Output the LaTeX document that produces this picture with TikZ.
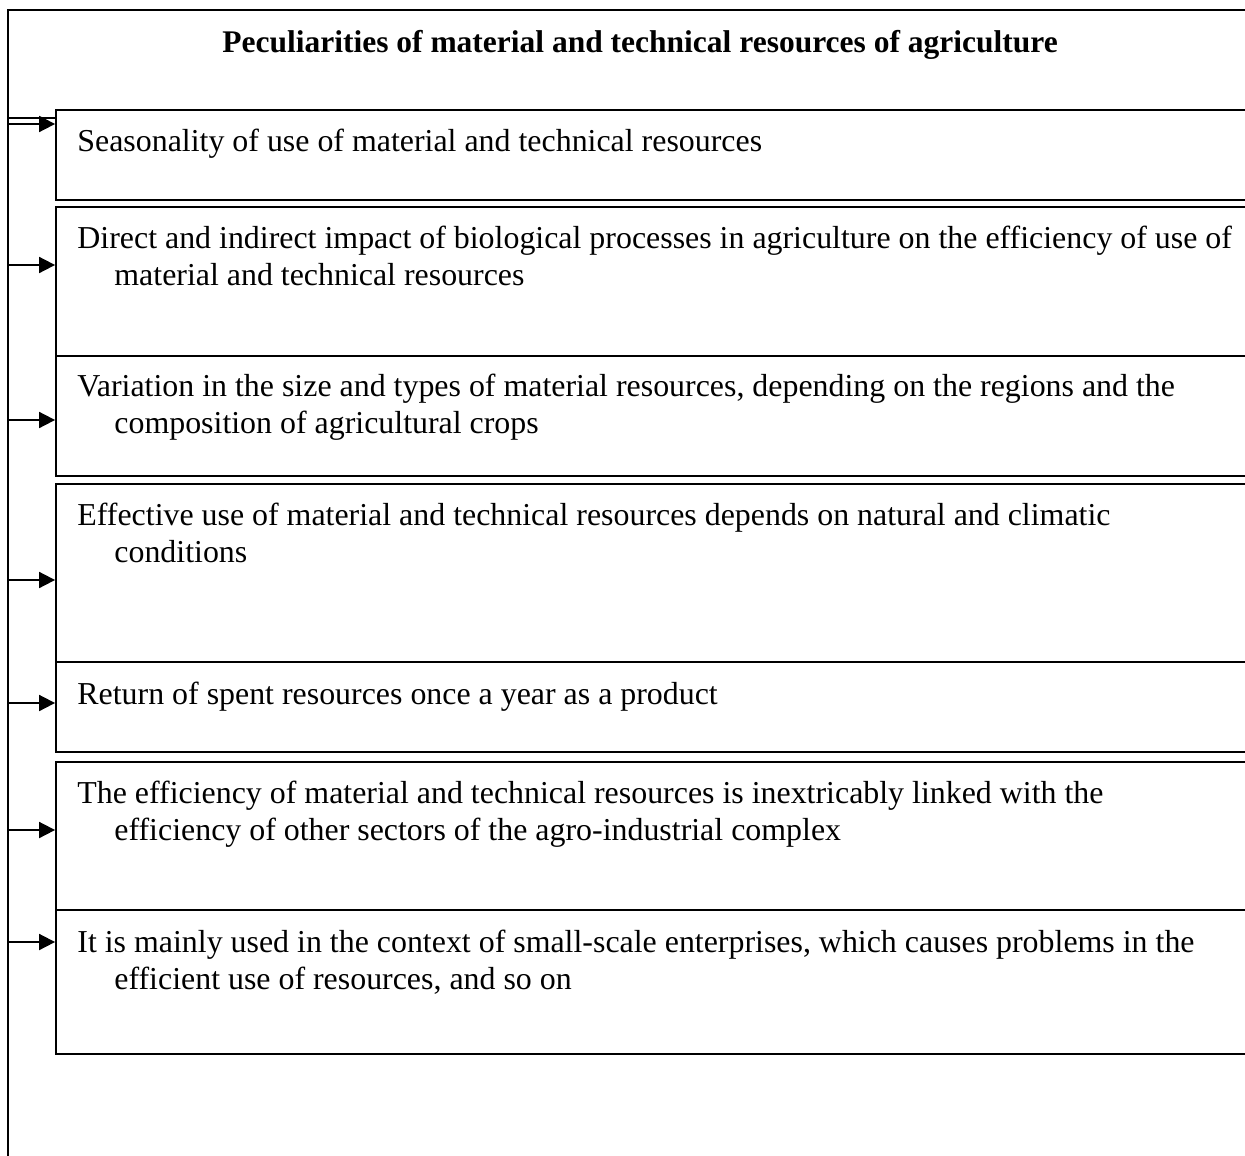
\documentclass[tikz,border=0pt]{standalone}
\usepackage{fontspec}
\setmainfont{Liberation Serif}
\usetikzlibrary{arrows.meta,fit}
\tikzset{
  ln/.style={line width=0.9pt, draw=black},
  boxx/.style={ln, fill=white, inner sep=0pt, rectangle},
  txt/.style={inner sep=0pt, anchor=base west, font=\fontsize{15.95}{18.5}\selectfont},
  ttl/.style={inner sep=0pt, anchor=base, font=\fontsize{15.75}{18.5}\selectfont\bfseries},
  arr/.style={ln, -{Triangle[length=8pt,width=8pt]}}
}
\begin{document}
\begin{tikzpicture}[x=0.5pt,y=-0.5pt]
\useasboundingbox (0,0) rectangle (1245,1155);
% spine and title frame
\coordinate (top) at (8,10);
\coordinate (bot) at (8,1160);
\node[boxx, fit={(8,10) (1270,118)}] (title) {};
\node[ttl] (tt) at (640,53) {Peculiarities of material and technical resources of agriculture};
% boxes
\node[boxx, fit={(56,110) (1270,200)}] (b1) {};
\node[boxx, fit={(56,207) (1270,356)}] (b2) {};
\node[boxx, fit={(56,356) (1270,476)}] (b3) {};
\node[boxx, fit={(56,484) (1270,662)}] (b4) {};
\node[boxx, fit={(56,662) (1270,752)}] (b5) {};
\node[boxx, fit={(56,762) (1270,910)}] (b6) {};
\node[boxx, fit={(56,910) (1270,1054)}] (b7) {};
\draw[ln] (top) -- (bot);
% texts
\node[txt] (t1) at (77,152) {Seasonality of use of material and technical resources};
\node[txt] (t2a) at (77,248) {Direct and indirect impact of biological processes in agriculture on the efficiency of use of};
\node[txt] (t2b) at (114,285) {material and technical resources};
\node[txt] (t3a) at (77,396) {Variation in the size and types of material resources, depending on the regions and the};
\node[txt] (t3b) at (114,433) {composition of agricultural crops};
\node[txt] (t4a) at (77,525) {Effective use of material and technical resources depends on natural and climatic};
\node[txt] (t4b) at (114,562) {conditions};
\node[txt] (t5) at (77,704) {Return of spent resources once a year as a product};
\node[txt] (t6a) at (77,803) {The efficiency of material and technical resources is inextricably linked with the};
\node[txt] (t6b) at (114,840) {efficiency of other sectors of the agro-industrial complex};
\node[txt] (t7a) at (77,952) {It is mainly used in the context of small-scale enterprises, which causes problems in the};
\node[txt] (t7b) at (114,989) {efficient use of resources, and so on};
% arrows
\coordinate (a1) at (8,124);
\coordinate (a2) at (8,265);
\coordinate (a3) at (8,420);
\coordinate (a4) at (8,580);
\coordinate (a5) at (8,703);
\coordinate (a6) at (8,830);
\coordinate (a7) at (8,942);
\draw[arr] (a1) -- (a1 -| b1.west);
\draw[arr] (a2) -- (a2 -| b2.west);
\draw[arr] (a3) -- (a3 -| b3.west);
\draw[arr] (a4) -- (a4 -| b4.west);
\draw[arr] (a5) -- (a5 -| b5.west);
\draw[arr] (a6) -- (a6 -| b6.west);
\draw[arr] (a7) -- (a7 -| b7.west);
\end{tikzpicture}
\end{document}
